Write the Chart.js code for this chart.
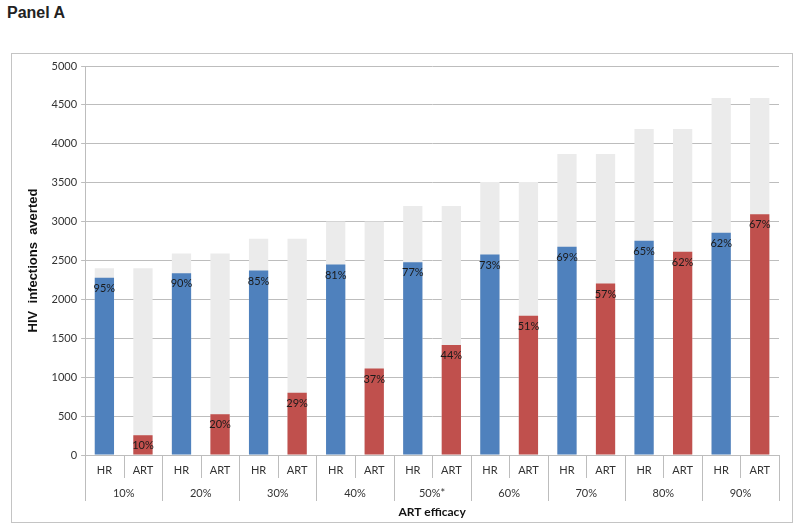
<!DOCTYPE html>
<html lang="en">
<head>
  <meta charset="UTF-8" />
  <title>Panel A - HIV infections averted</title>
  <script src="https://cdn.jsdelivr.net/npm/chart.js"></script>
  <style>
    body { margin: 0; background: #fff; width: 800px; height: 531px; position: relative; overflow: hidden; }
    .panel-title { position: absolute; left: 7px; top: 4px; font: bold 16px "Liberation Sans", Arial, sans-serif; color: #222; }
    .frame { position: absolute; left: 11px; top: 53px; width: 780px; height: 468px; border: 1px solid #c4c4c4; }
  </style>
</head>
<body>
  <div class="panel-title">Panel A</div>
  <div class="frame">
    <canvas id="chart" width="780" height="468"></canvas>
  </div>

  <script>
    // categories
    const groups = ['10%', '20%', '30%', '40%', '50%*', '60%', '70%', '80%', '90%'];
    const bars = ['HR', 'ART', 'HR', 'ART', 'HR', 'ART', 'HR', 'ART', 'HR', 'ART',
                  'HR', 'ART', 'HR', 'ART', 'HR', 'ART', 'HR', 'ART'];

    // infections averted (coloured part)
    const averted = [2277, 254, 2337, 524, 2371, 799, 2448, 1112, 2478, 1413,
                     2577, 1791, 2676, 2204, 2754, 2612, 2857, 3093];
    // maximum possible (grey background)
    const maxPossible = [2400, 2400, 2590, 2590, 2780, 2780, 3000, 3000, 3200, 3200,
                         3510, 3510, 3870, 3870, 4190, 4190, 4590, 4590];
    // share labels
    const shareLabels = ['95%', '10%', '90%', '20%', '85%', '29%', '81%', '37%', '77%', '44%',
                         '73%', '51%', '69%', '57%', '65%', '62%', '62%', '67%'];

    const yTicks = [0, 500, 1000, 1500, 2000, 2500, 3000, 3500, 4000, 4500, 5000];

    const BLUE = '#4F81BD', RED = '#C0504D', GREY = '#EBEBEB', LINE = '#bdbdbd';
    const tickFont = { family: 'Lato, "Open Sans", sans-serif', size: 11 };

    // share labels just inside the top of each coloured bar
    const shareLabelPlugin = {
      id: 'shareLabels',
      afterDatasetsDraw(chart) {
        const meta = chart.getDatasetMeta(0);
        const ctx = chart.ctx;
        ctx.save();
        ctx.font = '11px Lato, "Open Sans", sans-serif';
        ctx.fillStyle = '#1a1a1a';
        ctx.textAlign = 'center';
        ctx.textBaseline = 'top';
        meta.data.forEach((bar, i) => {
          ctx.fillText(shareLabels[i], bar.x, bar.y + 5);
        });
        ctx.restore();
      }
    };

    // separators of the two-level category axis
    const separatorPlugin = {
      id: 'separators',
      afterDraw(chart) {
        const x = chart.scales.x, x2 = chart.scales.x2;
        const ctx = chart.ctx;
        const step = (x.right - x.left) / bars.length;
        ctx.save();
        ctx.strokeStyle = LINE;
        ctx.lineWidth = 1;
        ctx.beginPath();
        for (let i = 0; i <= bars.length; i++) {
          const px = Math.round(x.left + i * step) + 0.5;
          const bottom = i % 2 === 0 ? x2.top + 23 : x.bottom;
          ctx.moveTo(px, x.top);
          ctx.lineTo(px, bottom);
        }
        ctx.stroke();
        ctx.restore();
      }
    };

    new Chart(document.getElementById('chart'), {
      type: 'bar',
      data: {
        labels: bars,
        datasets: [
          {
            data: averted,
            backgroundColor: bars.map(b => b === 'HR' ? BLUE : RED),
            grouped: false,
            order: 0
          },
          {
            data: maxPossible,
            backgroundColor: GREY,
            grouped: false,
            order: 1
          }
        ]
      },
      options: {
        responsive: false,
        animation: false,
        barPercentage: 0.5,
        categoryPercentage: 1,
        layout: { padding: { top: 12, right: 13, left: 10, bottom: 2 } },
        plugins: {
          legend: { display: false },
          tooltip: { enabled: false }
        },
        scales: {
          y: {
            min: 0,
            max: 5000,
            afterBuildTicks: axis => { axis.ticks = yTicks.map(v => ({ value: v })); },
            ticks: { font: tickFont, color: '#333', padding: 4, callback: v => String(v) },
            grid: { color: LINE, tickLength: 4 },
            border: { color: LINE },
            title: {
              display: true,
              text: 'HIV  infections  averted',
              font: { family: '"Liberation Sans", Arial, sans-serif', size: 13, weight: 'bold' },
              color: '#111',
              padding: { bottom: 6 }
            }
          },
          x: {
            position: 'bottom',
            ticks: { font: tickFont, color: '#333', padding: 9, autoSkip: false, maxRotation: 0 },
            grid: { drawOnChartArea: false, drawTicks: false },
            border: { color: LINE },
            afterFit: axis => { axis.height = 23; }
          },
          x2: {
            type: 'category',
            position: 'bottom',
            labels: groups,
            offset: true,
            ticks: { font: tickFont, color: '#333', padding: 9, autoSkip: false, maxRotation: 0 },
            grid: { drawOnChartArea: false, drawTicks: false },
            border: { display: false },
            title: {
              display: true,
              text: 'ART efficacy',
              font: { family: 'Lato, "Open Sans", sans-serif', size: 12, weight: 'bold' },
              color: '#111',
              padding: { top: 0, bottom: 1 }
            },
            afterFit: axis => { axis.height = 42; }
          }
        }
      },
      plugins: [shareLabelPlugin, separatorPlugin]
    });
  </script>
</body>
</html>
